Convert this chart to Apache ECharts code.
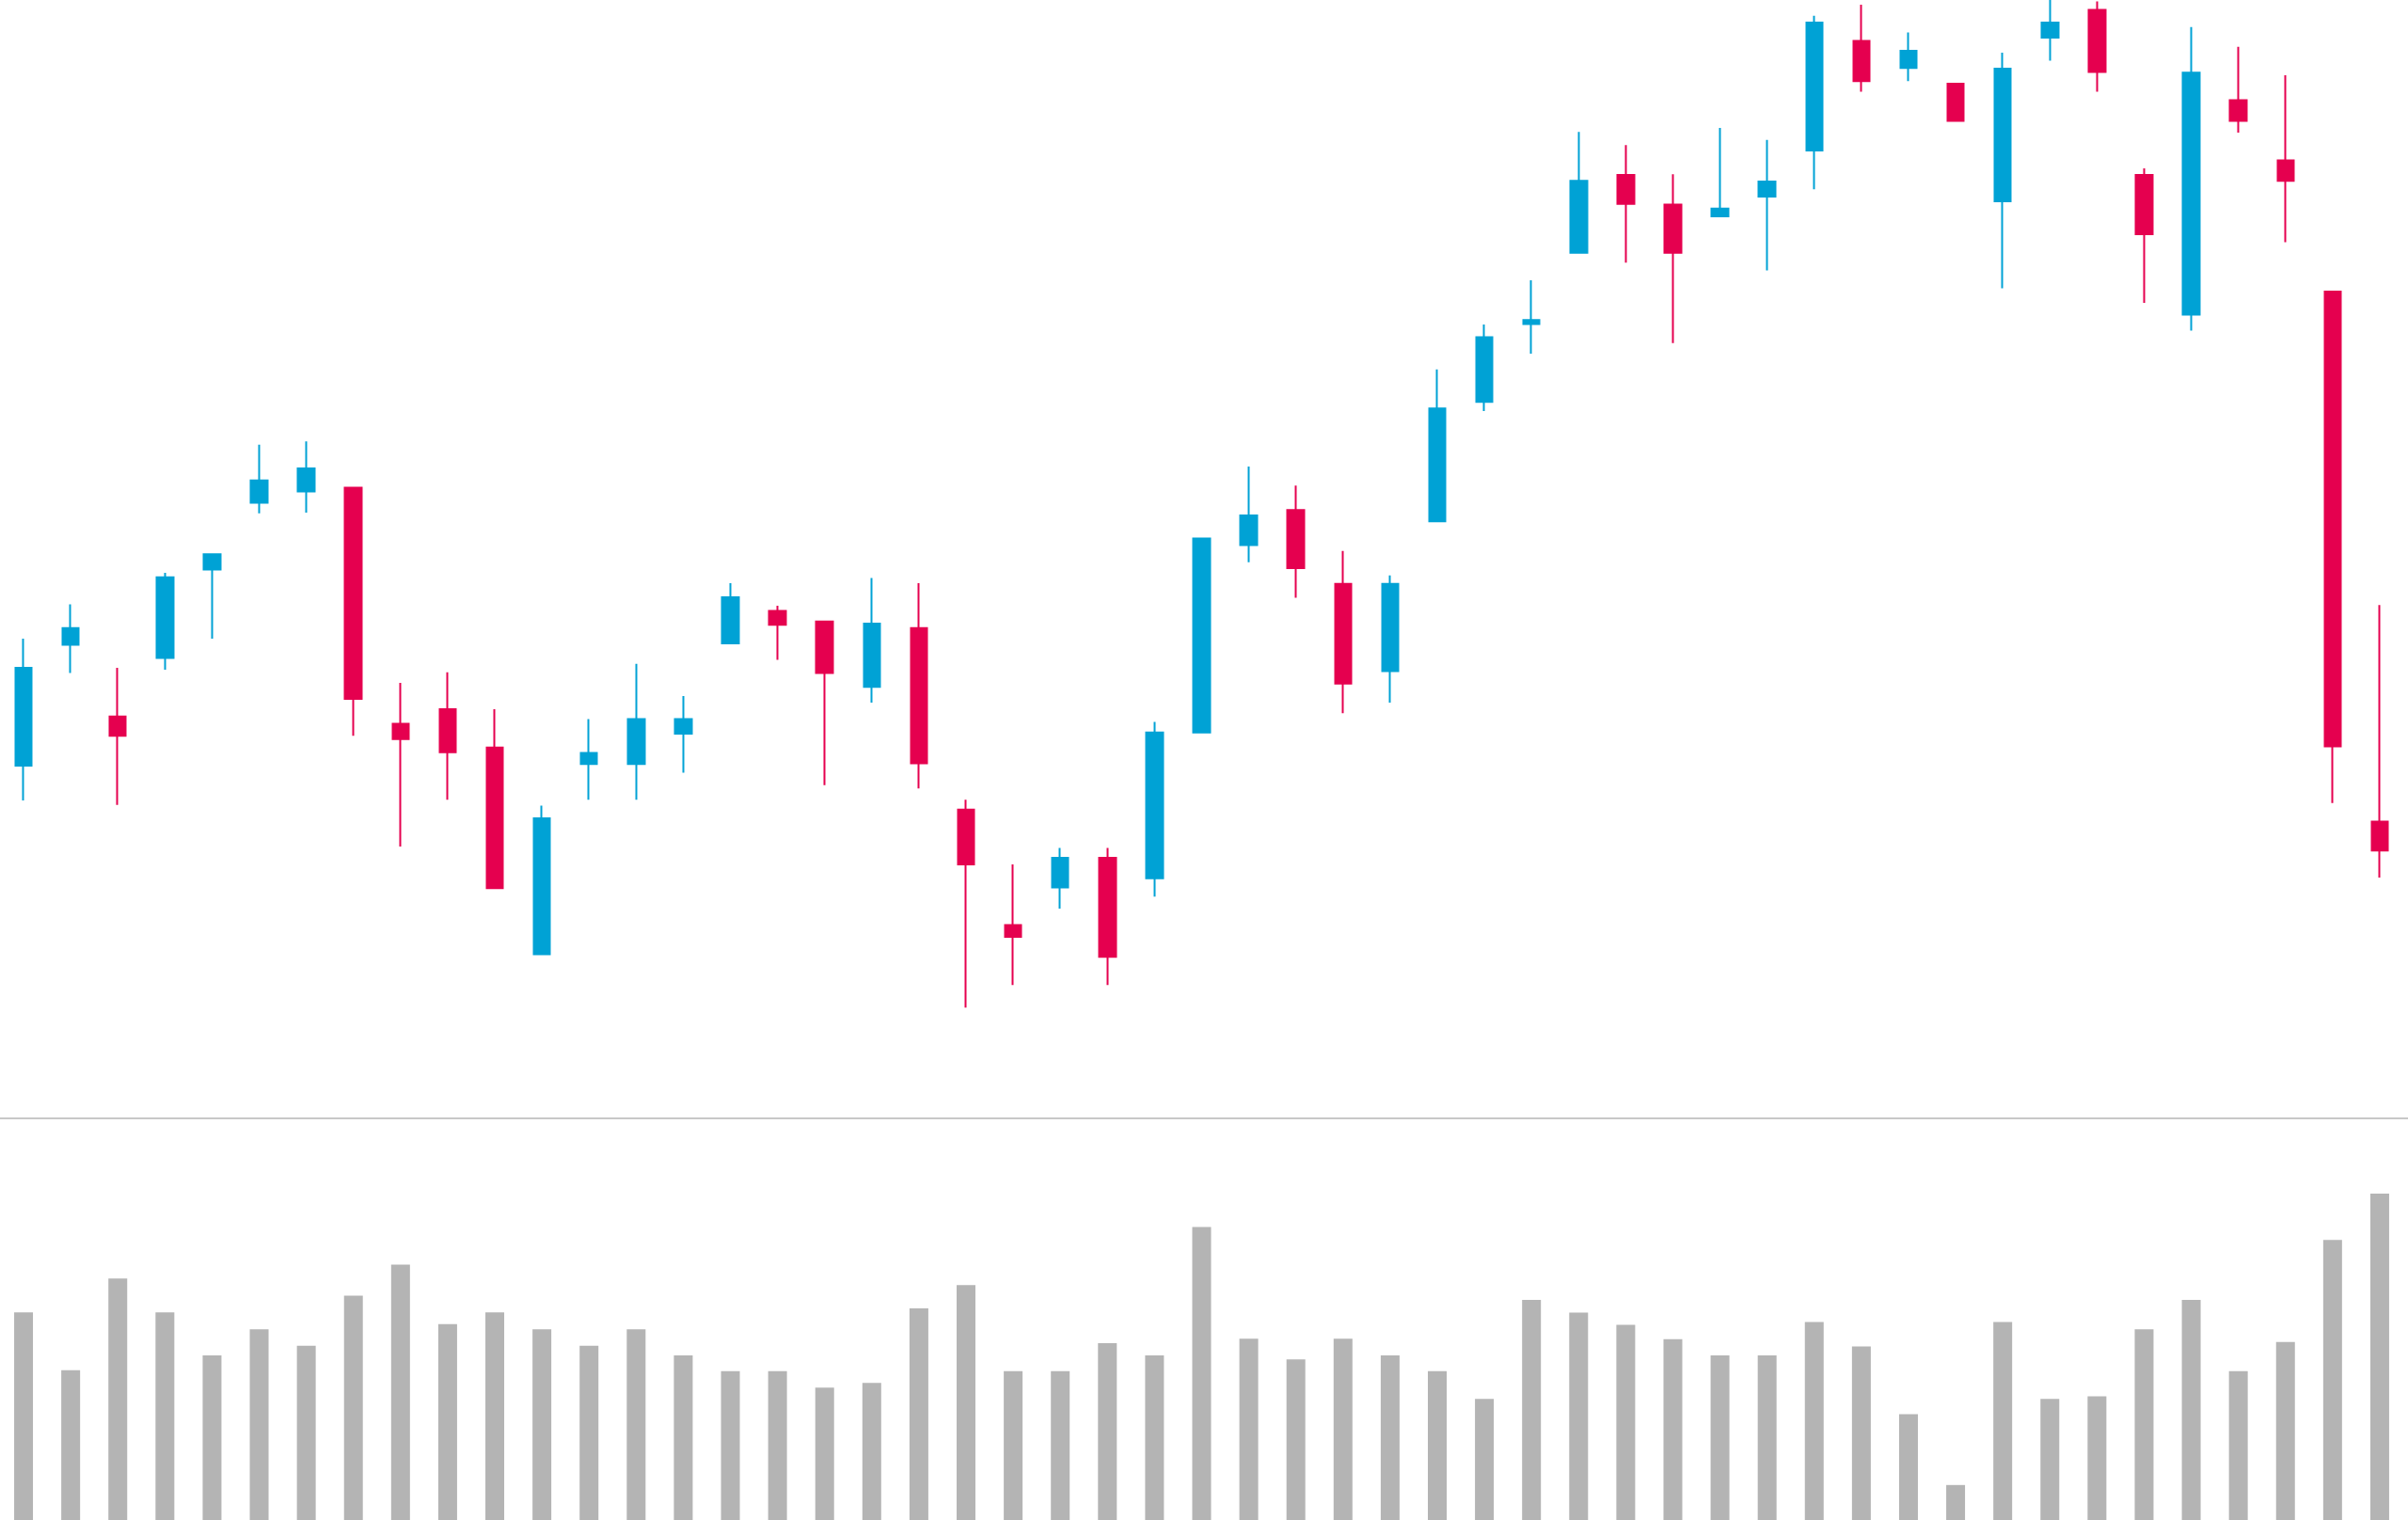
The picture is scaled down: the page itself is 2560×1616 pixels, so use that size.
<!DOCTYPE html>
<html>
<head>
<meta charset="utf-8">
<script src="https://cdn.jsdelivr.net/npm/echarts@6/dist/echarts.min.js"></script>
<style>
html,body{margin:0;padding:0;background:#fff;}
#chart{width:2560px;height:1616px;}
</style>
</head>
<body>
<div id="chart"></div>
<script>
// categories (trading sessions)
const categories = Array.from({length: 51}, (_, i) => 'D' + (i + 1));

// OHLC: [open, close, low, high]
const opens  = [37.5,50.36,42.72,48.96,58.36,65.45,66.64,67.06,41.94,43.49,39.42,17.46,37.67,37.67,40.89,50.5,53.94,52.82,45.87,52.12,32.82,20.55,24.55,27.7,25.53,41.03,60.96,64.67,56.82,47.56,63.48,76.18,84.46,92.03,100.31,97.15,95.89,98.0,102.91,114.55,111.67,109.99,97.5,114.9,117.85,100.31,85.44,108.24,101.85,87.9,31.56];
const closes = [47.9,52.12,40.68,57.52,59.97,67.83,69.1,44.61,40.33,38.93,24.48,31.91,38.86,42.44,42.44,55.41,52.47,47.35,52.61,37.74,27.0,19.29,27.7,17.18,41.03,61.66,64.11,58.5,46.22,56.82,75.48,83.05,84.88,99.68,97.22,92.03,96.73,99.61,116.51,110.27,113.5,106.06,111.6,116.51,111.25,94.0,111.18,106.06,99.68,39.56,28.48];
const lows   = [33.8,47.35,33.32,47.7,51.0,64.32,64.4,40.68,28.9,33.88,24.48,17.46,33.88,33.88,36.75,50.5,48.75,35.42,44.19,35.07,11.78,14.17,22.3,14.17,23.57,41.03,59.13,55.34,43.07,44.19,63.48,75.2,81.3,92.03,90.98,82.42,95.89,90.14,98.77,109.15,110.27,106.06,88.24,112.45,109.15,86.7,83.75,104.8,93.15,33.53,25.6];
const highs  = [51.0,54.64,47.9,58.0,59.97,71.62,71.97,67.06,46.3,47.42,43.49,33.25,42.44,48.33,44.89,56.89,54.5,52.82,57.45,56.89,33.88,27.0,28.76,28.76,42.15,61.66,69.3,67.27,60.32,57.73,79.62,84.39,89.09,104.87,103.47,100.38,105.29,104.03,117.22,118.41,115.46,109.99,113.29,119.5,118.76,101.01,116.02,113.92,110.9,87.9,54.57];

// volume
const volumes = [220.8,159.3,256.7,220.8,175.1,202.7,185.3,238.6,271.5,208.3,220.8,202.7,185.3,202.7,175.1,158.3,158.3,140.8,145.8,225.1,249.8,158.3,158.3,187.9,175.1,311.6,192.8,170.8,192.8,175.1,158.3,128.7,234,220.5,207.6,192.2,175.1,175.1,210.6,184.6,112.5,37.2,210.6,128.7,131.6,202.7,234,158.3,189.2,297.8,347.0];

const ohlc = opens.map((o, i) => [o, closes[i], lows[i], highs[i]]);

const UP = '#00a2d5';
const DOWN = '#e5004f';

const chart = echarts.init(document.getElementById('chart'));
chart.setOption({
  animation: false,
  backgroundColor: '#ffffff',
  grid: [
    {left: 0, right: 5, top: 0, bottom: 427},
    {left: 0, right: 5, top: 1216, bottom: 0}
  ],
  graphic: [
    {
      type: 'line', silent: true,
      shape: {x1: 0, y1: 1189, x2: 2560, y2: 1189},
      style: {stroke: '#c8c8c8', lineWidth: 2}
    }
  ],
  xAxis: [
    {
      type: 'category', gridIndex: 0, data: categories, boundaryGap: true,
      axisLine: {show: false},
      axisTick: {show: false}, axisLabel: {show: false}, splitLine: {show: false}
    },
    {
      type: 'category', gridIndex: 1, data: categories, boundaryGap: true,
      axisLine: {show: false}, axisTick: {show: false}, axisLabel: {show: false}, splitLine: {show: false}
    }
  ],
  yAxis: [
    {
      type: 'value', gridIndex: 0, min: 0, max: 118.9, show: false,
      splitLine: {show: false}
    },
    {
      type: 'value', gridIndex: 1, min: 0, max: 400, show: false,
      splitLine: {show: false}
    }
  ],
  series: [
    {
      type: 'candlestick',
      xAxisIndex: 0, yAxisIndex: 0,
      data: ohlc,
      barWidth: 18,
      clip: true,
      itemStyle: {
        color: UP, color0: DOWN,
        borderColor: UP, borderColor0: DOWN,
        borderWidth: 2
      }
    },
    {
      type: 'bar',
      xAxisIndex: 1, yAxisIndex: 1,
      data: volumes,
      barWidth: 20,
      itemStyle: {color: '#b4b4b4'}
    }
  ]
});
</script>
</body>
</html>
